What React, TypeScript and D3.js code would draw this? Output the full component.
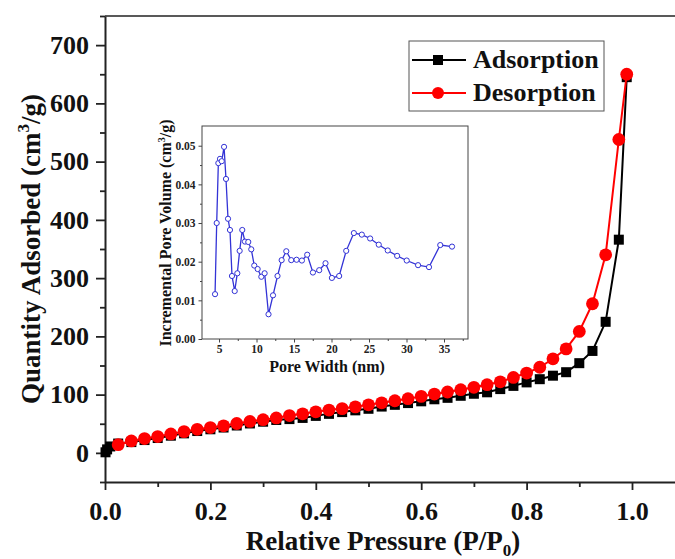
import React, { useEffect, useRef } from 'react';
import * as d3 from 'd3';

// isotherm data (P/P0, cm3/g)
const adsP = [0.001, 0.004, 0.01, 0.025, 0.05, 0.075, 0.1, 0.125, 0.15, 0.175, 0.2, 0.225, 0.25, 0.275, 0.3, 0.325, 0.35, 0.375, 0.4, 0.425, 0.45, 0.475, 0.5, 0.525, 0.55, 0.575, 0.6, 0.625, 0.65, 0.675, 0.7, 0.725, 0.75, 0.775, 0.8, 0.825, 0.85, 0.875, 0.9, 0.925, 0.95, 0.975, 0.99];
const adsQ = [1, 6, 11, 16, 18.5, 22, 25.5, 29.5, 33.5, 37.5, 40.5, 43.5, 47, 50.5, 53.5, 56.5, 58, 60, 63.5, 67, 70, 73, 75.7, 79.5, 82.5, 85.5, 88.5, 92, 94.5, 98, 101.5, 104, 109.5, 115, 121, 126.5, 132.5, 138.5, 154, 175, 225, 366, 645];

const desP = [0.025, 0.05, 0.075, 0.1, 0.125, 0.15, 0.175, 0.2, 0.225, 0.25, 0.275, 0.3, 0.325, 0.35, 0.375, 0.4, 0.425, 0.45, 0.475, 0.5, 0.525, 0.55, 0.575, 0.6, 0.625, 0.65, 0.675, 0.7, 0.725, 0.75, 0.775, 0.8, 0.825, 0.85, 0.875, 0.9, 0.925, 0.95, 0.975, 0.99];
const desQ = [14, 20.5, 24.6, 28, 32.5, 36.5, 40.5, 43.5, 46.5, 50.4, 54, 57, 60, 64, 67, 70.5, 73.5, 76, 79, 82.5, 86, 89.5, 93, 97, 101, 104.5, 108.5, 112.5, 117, 122, 129.5, 137, 147, 161.5, 178.5, 208.5, 256, 340, 538, 650];

// inset: pore size distribution
const poreW = [4.47, 4.69, 4.91, 5.13, 5.36, 5.67, 5.93, 6.2, 6.46, 6.73, 7.09, 7.44, 7.75, 8.1, 8.46, 8.9, 9.3, 9.7, 10.15, 10.64, 11.08, 11.6, 12.2, 12.8, 13.35, 13.97, 14.63, 15.34, 16.05, 16.76, 17.52, 18.36, 19.2, 20.05, 21.02, 21.96, 22.98, 24.04, 25.15, 26.3, 27.5, 28.75, 30.03, 31.54, 33.0, 34.5, 36.07];
const poreV = [0.0116, 0.03, 0.0455, 0.0466, 0.046, 0.0497, 0.0414, 0.0311, 0.0282, 0.0163, 0.0124, 0.017, 0.0228, 0.0282, 0.0252, 0.0251, 0.0232, 0.019, 0.0181, 0.0161, 0.017, 0.0064, 0.0113, 0.0163, 0.0204, 0.0227, 0.0204, 0.0205, 0.0203, 0.0218, 0.0172, 0.0178, 0.0196, 0.0158, 0.0163, 0.0228, 0.0274, 0.027, 0.026, 0.0244, 0.0229, 0.0215, 0.0203, 0.0191, 0.0186, 0.0243, 0.0239];

const xTicks = [0, 0.2, 0.4, 0.6, 0.8, 1.0];
const yTicks = [0, 100, 200, 300, 400, 500, 600, 700];
const insetXTicks = [5, 10, 15, 20, 25, 30, 35];
const insetYTicks = [0, 0.01, 0.02, 0.03, 0.04, 0.05];

const FONT = '"Liberation Serif", "Times New Roman", serif';

const App: React.FC = () => {
  const svgRef = useRef<SVGSVGElement>(null);

  useEffect(() => {
    if (!svgRef.current) return;
    const svg = d3.select(svgRef.current);
    svg.selectAll('*').remove();

    const x = d3.scaleLinear().domain([0, 1.1]).range([105, 105 + 1.1 * 527]);
    const y = d3.scaleLinear().domain([-50, 750]).range([482, 16]);

    const g = svg.append('g');

    // frame top
    g.append('line')
      .attr('x1', x(0)).attr('x2', 675)
      .attr('y1', y(750)).attr('y2', y(750))
      .attr('stroke', '#222').attr('stroke-width', 1.5);

    // minor + major ticks
    const xAxis = g.append('g').attr('transform', `translate(0,${y(-50)})`);
    xAxis.call(d3.axisBottom(x).tickValues(d3.range(0.1, 1.1, 0.2)).tickSize(5).tickFormat(() => ''));
    xAxis.call(g2 => g2.select('.domain').remove());
    const xAxisMajor = g.append('g').attr('transform', `translate(0,${y(-50)})`);
    xAxisMajor.call(d3.axisBottom(x).tickValues(xTicks).tickSize(8).tickSizeOuter(0).tickPadding(12).tickFormat(d3.format('.1f')));

    const yMinor = g.append('g').attr('transform', `translate(${x(0)},0)`);
    yMinor.call(d3.axisLeft(y).tickValues(d3.range(-50, 751, 100)).tickSize(5).tickFormat(() => ''));
    yMinor.call(g2 => g2.select('.domain').remove());
    const yMajor = g.append('g').attr('transform', `translate(${x(0)},0)`);
    yMajor.call(d3.axisLeft(y).tickValues(yTicks).tickSize(9).tickSizeOuter(0).tickPadding(7).tickFormat(d3.format('d')));

    svg.selectAll('.domain').attr('stroke', '#222').attr('stroke-width', 2);
    svg.selectAll('.tick line').attr('stroke', '#222').attr('stroke-width', 1.8);
    svg.selectAll('.tick text')
      .attr('fill', '#111')
      .style('font-family', FONT)
      .style('font-weight', 'bold')
      .style('font-size', '26px');

    // axis titles
    const xt = g.append('text')
      .attr('x', 383).attr('y', 550)
      .attr('text-anchor', 'middle')
      .style('font-family', FONT).style('font-weight', 'bold').style('font-size', '27px')
      .attr('fill', '#111');
    xt.append('tspan').text('Relative Pressure (P/P');
    xt.append('tspan').attr('dy', 6).style('font-size', '17px').text('0');
    xt.append('tspan').attr('dy', -6).text(')');

    const yt = g.append('text')
      .attr('transform', `translate(40,${249}) rotate(-90)`)
      .attr('text-anchor', 'middle')
      .style('font-family', FONT).style('font-weight', 'bold').style('font-size', '27px')
      .attr('fill', '#111');
    yt.append('tspan').text('Quantity Adsorbed (cm');
    yt.append('tspan').attr('dy', -11).style('font-size', '17px').text('3');
    yt.append('tspan').attr('dy', 11).text('/g)');

    // series
    const adsData = adsP.map((p, i) => [p, adsQ[i]] as [number, number]);
    const desData = desP.map((p, i) => [p, desQ[i]] as [number, number]);
    const line = d3.line<[number, number]>().x(d => x(d[0])).y(d => y(d[1]));

    g.append('path').datum(adsData)
      .attr('fill', 'none').attr('stroke', '#000').attr('stroke-width', 2).attr('d', line);
    g.selectAll('.sq').data(adsData).enter().append('rect')
      .attr('x', d => x(d[0]) - 5).attr('y', d => y(d[1]) - 5)
      .attr('width', 10).attr('height', 10).attr('fill', '#000');

    g.append('path').datum(desData)
      .attr('fill', 'none').attr('stroke', '#ff0000').attr('stroke-width', 2).attr('d', line);
    g.selectAll('.ci').data(desData).enter().append('circle')
      .attr('cx', d => x(d[0])).attr('cy', d => y(d[1]))
      .attr('r', 6.4).attr('fill', '#ff0000');

    // legend
    const lg = g.append('g');
    lg.append('rect').attr('x', 409).attr('y', 41).attr('width', 195).attr('height', 70)
      .attr('fill', '#fff').attr('stroke', '#555').attr('stroke-width', 1);
    const legendItems = [
      { name: 'Adsorption', color: '#000', shape: 'square', cy: 60 },
      { name: 'Desorption', color: '#ff0000', shape: 'circle', cy: 93 },
    ];
    legendItems.forEach(it => {
      lg.append('line').attr('x1', 412).attr('x2', 466).attr('y1', it.cy).attr('y2', it.cy)
        .attr('stroke', it.color).attr('stroke-width', 2);
      if (it.shape === 'square') {
        lg.append('rect').attr('x', 433).attr('y', it.cy - 5).attr('width', 10).attr('height', 10).attr('fill', it.color);
      } else {
        lg.append('circle').attr('cx', 438).attr('cy', it.cy).attr('r', 6).attr('fill', it.color);
      }
      lg.append('text').attr('x', 473).attr('y', it.cy + 8)
        .style('font-family', FONT).style('font-weight', 'bold').style('font-size', '26px')
        .attr('fill', '#111').text(it.name);
    });

    // inset
    const ix = d3.scaleLinear().domain([2.73, 38.2]).range([202, 468]);
    const iy = d3.scaleLinear().domain([0, 0.0551]).range([339, 126]);
    const ig = g.append('g');
    ig.append('rect').attr('x', 202).attr('y', 126).attr('width', 266).attr('height', 213)
      .attr('fill', '#fff').attr('stroke', '#444').attr('stroke-width', 1);

    const ixMinor = ig.append('g').attr('transform', `translate(0,339)`);
    ixMinor.call(d3.axisBottom(ix).tickValues(d3.range(7.5, 38, 5)).tickSize(2).tickFormat(() => ''));
    const ixMajor = ig.append('g').attr('transform', `translate(0,339)`);
    ixMajor.call(d3.axisBottom(ix).tickValues(insetXTicks).tickSize(3.5).tickSizeOuter(0).tickPadding(2).tickFormat(d3.format('d')));
    const iyMinor = ig.append('g').attr('transform', `translate(202,0)`);
    iyMinor.call(d3.axisLeft(iy).tickValues(d3.range(0.005, 0.055, 0.01)).tickSize(2).tickFormat(() => ''));
    const iyMajor = ig.append('g').attr('transform', `translate(202,0)`);
    iyMajor.call(d3.axisLeft(iy).tickValues(insetYTicks).tickSize(3.5).tickSizeOuter(0).tickPadding(3).tickFormat(d3.format('.2f')));
    ig.selectAll('.domain').remove();
    ig.selectAll('.tick line').attr('stroke', '#444').attr('stroke-width', 1);
    ig.selectAll('.tick text')
      .attr('fill', '#222')
      .style('font-family', FONT).style('font-weight', 'bold').style('font-size', '11.5px');

    ig.append('text').attr('x', 327).attr('y', 372).attr('text-anchor', 'middle')
      .style('font-family', FONT).style('font-weight', 'bold').style('font-size', '16px').attr('fill', '#111')
      .text('Pore Width (nm)');
    const iyt = ig.append('text')
      .attr('transform', `translate(171,233) rotate(-90)`)
      .attr('text-anchor', 'middle')
      .style('font-family', FONT).style('font-weight', 'bold').style('font-size', '16px').attr('fill', '#111');
    iyt.append('tspan').text('Incremental Pore Volume (cm');
    iyt.append('tspan').attr('dy', -6).style('font-size', '10px').text('3');
    iyt.append('tspan').attr('dy', 6).text('/g)');

    const inData = poreW.map((w, i) => [w, poreV[i]] as [number, number]);
    const iline = d3.line<[number, number]>().x(d => ix(d[0])).y(d => iy(d[1]));
    ig.append('path').datum(inData)
      .attr('fill', 'none').attr('stroke', '#3333d6').attr('stroke-width', 1.3).attr('d', iline);
    ig.selectAll('.pc').data(inData).enter().append('circle')
      .attr('cx', d => ix(d[0])).attr('cy', d => iy(d[1]))
      .attr('r', 2.6).attr('fill', '#fff').attr('stroke', '#3333d6').attr('stroke-width', 1);
  }, []);

  return (
    <svg
      ref={svgRef}
      width={675}
      height={559}
      style={{ position: 'absolute', left: 0, top: 0, background: '#fff' }}
    />
  );
};

export default App;
